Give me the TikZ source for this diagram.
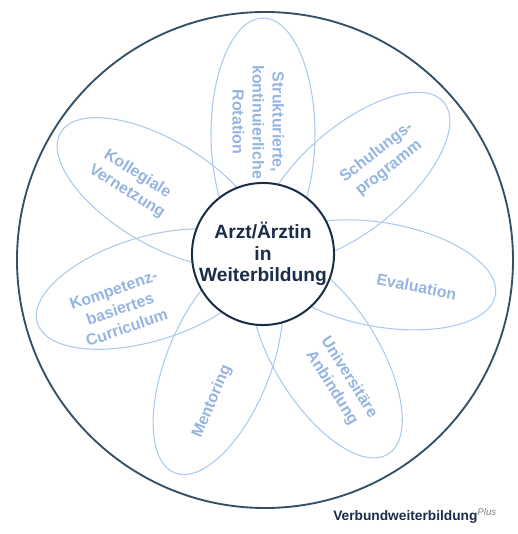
\documentclass[tikz,border=0pt]{standalone}
\usepackage{fontspec}
\setmainfont{Liberation Sans}
\usepackage{tikz}
\usetikzlibrary{
  positioning,
  shapes.geometric
}
\definecolor{rimcol}{RGB}{52,80,100}
\definecolor{corecol}{RGB}{25,45,72}
\definecolor{petalline}{RGB}{172,202,236}
\definecolor{petaltext}{RGB}{150,180,225}

\begin{document}
\begin{tikzpicture}[x=0.75pt, y=0.75pt,
    petal/.style={draw=petalline, line width=0.8pt, ellipse, inner sep=0pt,
        minimum width=174pt, minimum height=78pt},
    petallabel/.style={text=petaltext, font=\bfseries\fontsize{12}{15}\selectfont, align=center, inner sep=0pt},
    core/.style={draw=corecol, line width=1.5pt, fill=white, circle, minimum size=105pt, inner sep=0pt,
        text=corecol, font=\bfseries\fontsize{14.4}{16}\selectfont, align=center}]
    \useasboundingbox (-263,-280) rectangle (254,254);

    % Aussenring
    \draw[rimcol, line width=1.4pt] (2,-6) circle (248);

    % Blütenblätter
    \node[petal, rotate=90]   (rotation)   at (90:120)   {};
    \node[petal, rotate=40]   (schulung)   at (40:120)   {};
    \node[petal, rotate=-10]  (evaluation) at (-10:120)  {};
    \node[petal, rotate=-58]  (uni)        at (-58:120)  {};
    \node[petal, rotate=-112] (mentoring)  at (-112:120) {};
    \node[petal, rotate=-163] (curriculum) at (-163:120) {};
    \node[petal, rotate=149]  (vernetzung) at (149:120)  {};

    % Beschriftungen
    \node[petallabel, rotate=-90] (rotationtxt)   at (92:132)   {Strukturierte,\\kontinuierliche\\Rotation};
    \node[petallabel, rotate=38]  (schulungtxt)   at (38:152)   {Schulungs-\\programm};
    \node[petallabel, rotate=-11] (evaluationtxt) at (-12:157)  {Evaluation};
    \node[petallabel, rotate=-58] (unitxt)        at (-59:150)  {Universitäre\\Anbindung};
    \node[petallabel, rotate=67]  (mentoringtxt)  at (-109:156) {Mentoring};
    \node[petallabel, rotate=19]  (curriculumtxt) at (-159:153) {Kompetenz-\\basiertes\\Curriculum};
    \node[petallabel, rotate=-32] (vernetzungtxt) at (151.5:149) {Kollegiale\\Vernetzung};

    % Mitte
    \node[core] (arzt) at (0,0) {Arzt/Ärztin\\in\\Weiterbildung};

    % Fusszeile
    \node[anchor=base west, inner sep=0pt, text=corecol, font=\bfseries\fontsize{10.3}{12}\selectfont] (brand) at (70,-266)
        {Verbundweiterbildung\textsuperscript{\mdseries\itshape\color{gray}Plus}};
\end{tikzpicture}
\end{document}
